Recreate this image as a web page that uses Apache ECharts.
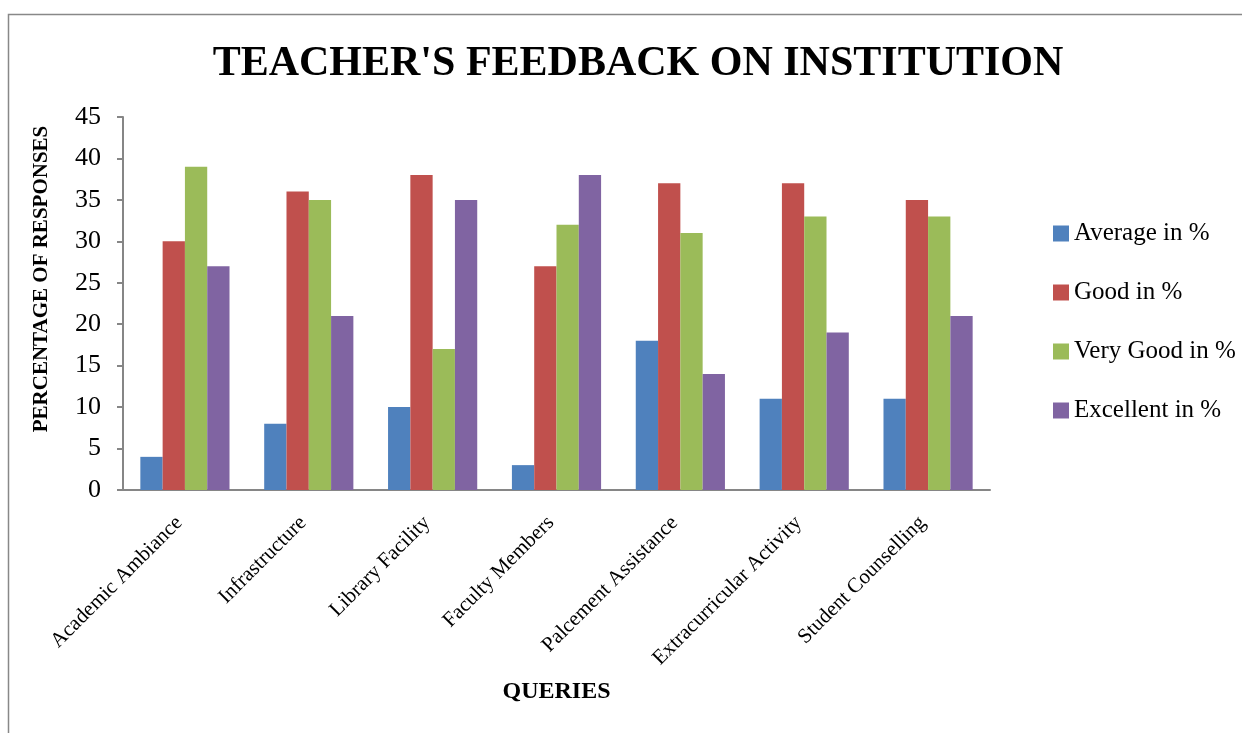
<!DOCTYPE html>
<html>
<head>
<meta charset="utf-8">
<script src="https://cdn.jsdelivr.net/npm/echarts@6/dist/echarts.min.js"></script>
<style>
html,body{margin:0;padding:0;background:#fff;}
#chart{width:1242px;height:733px;}
</style>
</head>
<body>
<div id="chart"></div>
<script>
const categories = ['Academic Ambiance','Infrastructure','Library Facility','Faculty Members','Palcement Assistance','Extracurricular Activity','Student Counselling'];
const averagePct = [4, 8, 10, 3, 18, 11, 11];
const goodPct = [30, 36, 38, 27, 37, 37, 35];
const veryGoodPct = [39, 35, 17, 32, 31, 33, 33];
const excellentPct = [27, 21, 35, 38, 14, 19, 21];
const seriesNames = ['Average in %','Good in %','Very Good in %','Excellent in %'];
const yTicks = {min: 0, max: 45, interval: 5};

const FONT = "'Liberation Serif','Times New Roman',serif";
const chart = echarts.init(document.getElementById('chart'));
const colors = ['#4F81BD','#C0504D','#9BBB59','#8064A2'];
const data = [averagePct, goodPct, veryGoodPct, excellentPct];

chart.setOption({
  animation: false,
  color: colors,
  title: {
    text: "TEACHER'S FEEDBACK ON INSTITUTION",
    left: 633, top: 38, textAlign: 'center',
    textStyle: {fontFamily: FONT, fontWeight: 'bold', fontSize: 42, color: '#000'}
  },
  graphic: [
    {type: 'rect', silent: true, shape: {x: 8.5, y: 14.5, width: 1400, height: 900},
     style: {fill: 'none', stroke: '#888', lineWidth: 1.5}},
    {type: 'text', x: 42, y: 279, rotation: Math.PI / 2,
     style: {text: 'PERCENTAGE OF RESPONSES', font: "bold 21px " + FONT, fill: '#000',
             align: 'center', verticalAlign: 'middle'}}
  ],
  legend: {
    orient: 'vertical', left: 1053, top: 221, padding: 0,
    itemWidth: 16, itemHeight: 16, itemGap: 34,
    icon: 'rect',
    textStyle: {fontFamily: FONT, fontSize: 25, color: '#000', lineHeight: 25, padding: [0,0,0,0]},
    data: seriesNames
  },
  grid: {left: 123, top: 117, right: 252, bottom: 243, containLabel: false},
  xAxis: {
    type: 'category', data: categories,
    axisLine: {lineStyle: {color: '#868686', width: 2}},
    axisTick: {show: false},
    axisLabel: {rotate: 45, margin: 24, interval: 0, fontFamily: FONT, fontSize: 21, color: '#000',
                padding: [0, 8, 0, 0]},
    name: 'QUERIES', nameLocation: 'middle', nameGap: 190,
    nameTextStyle: {fontFamily: FONT, fontWeight: 'bold', fontSize: 24, color: '#000'}
  },
  yAxis: {
    type: 'value', min: yTicks.min, max: yTicks.max, interval: yTicks.interval,
    axisLine: {show: true, lineStyle: {color: '#868686', width: 2}},
    axisTick: {show: true, length: 6, lineStyle: {color: '#868686', width: 2}},
    splitLine: {show: false},
    axisLabel: {margin: 22, fontFamily: FONT, fontSize: 26, color: '#000'}
  },
  series: seriesNames.map((n, i) => ({
    name: n, type: 'bar', data: data[i],
    barGap: '0%', barCategoryGap: '28%',
    itemStyle: {color: colors[i]}
  }))
});
</script>
</body>
</html>
